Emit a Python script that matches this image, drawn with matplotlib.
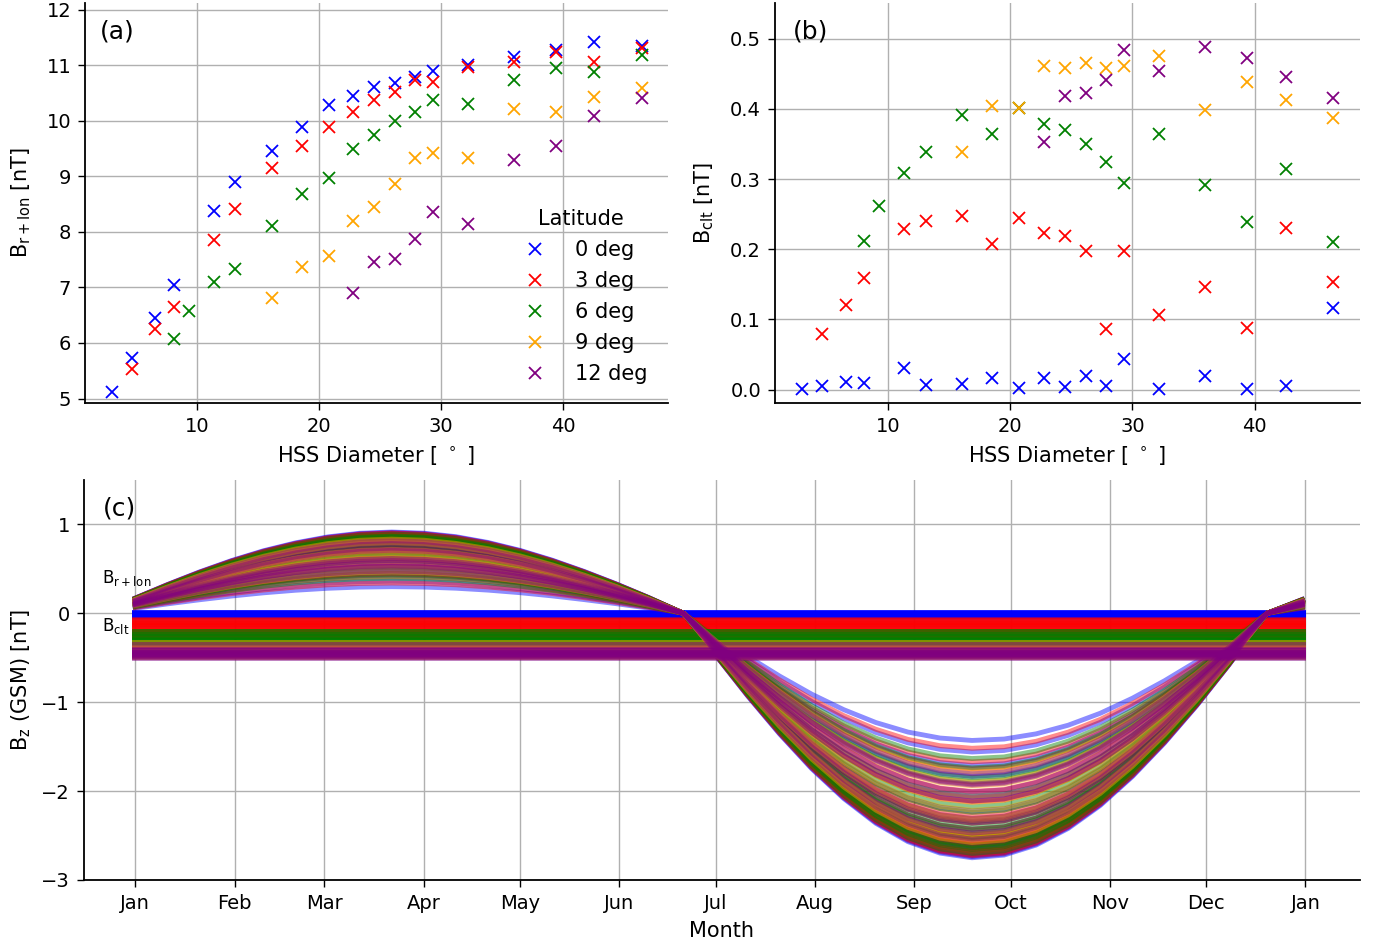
import numpy as np
import pandas as pd
import matplotlib
matplotlib.use('Agg')
import matplotlib.pyplot as plt
import matplotlib.dates as mdates

# --- data ------------------------------------------------------------------
latitudes = ['0 deg', '3 deg', '6 deg', '9 deg', '12 deg']
lat_colors = ['blue', 'red', 'green', 'orange', 'purple']

diam_0 = [2.95, 4.6, 6.55, 8.06, 11.35, 13.1, 16.08, 18.56, 20.75, 22.76,
          24.5, 26.24, 27.87, 29.34, 32.16, 35.96, 39.4, 42.54, 46.43]
diam_3 = diam_0[1:]
diam_6 = [8.06, 9.31, 11.35, 13.1, 16.08, 18.56, 20.75, 22.76, 24.5, 26.24,
          27.87, 29.34, 32.16, 35.96, 39.4, 42.54, 46.43]
diam_9 = diam_6[4:]
diam_12 = diam_6[7:]

br_0 = [5.11, 5.73, 6.45, 7.04, 8.37, 8.90, 9.46, 9.88, 10.29, 10.44, 10.61,
        10.68, 10.79, 10.89, 11.00, 11.15, 11.28, 11.41, 11.35]
br_3 = [5.53, 6.26, 6.64, 7.85, 8.42, 9.15, 9.55, 9.88, 10.16, 10.37, 10.52,
        10.74, 10.70, 10.97, 11.06, 11.24, 11.06, 11.31]
br_6 = [6.08, 6.58, 7.10, 7.33, 8.10, 8.68, 8.97, 9.49, 9.75, 9.99, 10.16,
        10.38, 10.31, 10.74, 10.95, 10.88, 11.18]
br_9 = [6.81, 7.36, 7.56, 8.20, 8.44, 8.86, 9.33, 9.42, 9.33, 10.22, 10.16,
        10.43, 10.59]
br_12 = [6.90, 7.45, 7.51, 7.87, 8.36, 8.14, 9.30, 9.55, 10.09, 10.41]

bclt_0 = [0.001, 0.005, 0.011, 0.010, 0.031, 0.006, 0.008, 0.016, 0.003, 0.016,
          0.004, 0.020, 0.005, 0.043, 0.001, 0.020, 0.001, 0.005, 0.117]
bclt_3 = [0.079, 0.121, 0.159, 0.229, 0.241, 0.247, 0.207, 0.244, 0.223, 0.219,
          0.197, 0.086, 0.197, 0.106, 0.147, 0.088, 0.231, 0.153]
bclt_6 = [0.212, 0.262, 0.309, 0.338, 0.391, 0.365, 0.401, 0.379, 0.370, 0.350,
          0.325, 0.295, 0.364, 0.292, 0.239, 0.314, 0.211]
bclt_9 = [0.338, 0.404, 0.401, 0.461, 0.459, 0.466, 0.458, 0.461, 0.476, 0.399,
          0.438, 0.413, 0.387]
bclt_12 = [0.353, 0.419, 0.423, 0.442, 0.484, 0.454, 0.488, 0.472, 0.445, 0.416]

# panel (c): seasonal shape of the Br+lon projection (read from the curves,
# normalised to the hump extremes) and the hump extremes themselves
shape_dates = ['2021-01-01', '2021-01-11', '2021-01-21', '2021-01-31', '2021-02-10',
               '2021-02-20', '2021-03-02', '2021-03-12', '2021-03-22', '2021-04-01',
               '2021-04-11', '2021-04-21', '2021-05-01', '2021-05-11', '2021-05-21',
               '2021-05-31', '2021-06-10', '2021-06-21', '2021-07-01', '2021-07-11',
               '2021-07-21', '2021-07-31', '2021-08-10', '2021-08-20', '2021-08-30',
               '2021-09-09', '2021-09-19', '2021-09-29', '2021-10-09', '2021-10-19',
               '2021-10-29', '2021-11-08', '2021-11-18', '2021-11-28', '2021-12-08',
               '2021-12-20', '2021-12-31']
shape = [0.188, 0.354, 0.509, 0.649, 0.770, 0.867, 0.940, 0.985, 1.000, 0.986,
         0.943, 0.872, 0.775, 0.655, 0.516, 0.363, 0.197, 0.0,
         -0.171, -0.338, -0.494, -0.636, -0.758, -0.859, -0.934, -0.981, -1.000,
         -0.989, -0.948, -0.880, -0.786, -0.668, -0.531, -0.379, -0.213, 0.0, 0.171]
peak_pos = [0.30, 0.915]    # smallest / largest positive hump [nT]
peak_neg = [1.43, 2.75]     # smallest / largest negative hump [nT]

diams = [diam_0, diam_3, diam_6, diam_9, diam_12]
brs = [br_0, br_3, br_6, br_9, br_12]
bclts = [bclt_0, bclt_3, bclt_6, bclt_9, bclt_12]

# --- figure ------------------------------------------------------------------
plt.rcParams['font.family'] = 'DejaVu Sans'
plt.rcParams['font.size'] = 14

fig = plt.figure(figsize=(13.74, 9.5), dpi=100)
ax_a = fig.add_axes([0.0619, 0.5758, 0.4243, 0.421])
ax_b = fig.add_axes([0.564, 0.5758, 0.4258, 0.421])
ax_c = fig.add_axes([0.0611, 0.0737, 0.9287, 0.421])

for ax in (ax_a, ax_b, ax_c):
    ax.grid(True, color='#b0b0b0', lw=1)
    ax.set_axisbelow(True)
    ax.spines['top'].set_visible(False)
    ax.spines['right'].set_visible(False)
    ax.spines['left'].set_linewidth(1.3)
    ax.spines['bottom'].set_linewidth(1.3)
    ax.tick_params(labelsize=14, length=5, width=1, pad=5)

# (a)
for d, br, c, lab in zip(diams, brs, lat_colors, latitudes):
    ax_a.plot(d, br, 'x', color=c, ms=8, mew=1.3, ls='none', label=lab)
ax_a.set_ylim(4.92, 12.12)
ax_a.set_xlabel(r'HSS Diameter [ $^\circ$ ]', fontsize=15, labelpad=6)
ax_a.set_ylabel(r'B$_{\rm r+lon}$ [nT]', fontsize=15, labelpad=10)
ax_a.text(0.026, 0.93, '(a)', transform=ax_a.transAxes, fontsize=18, va='center')
ax_a.legend(title='Latitude', loc='lower right', frameon=False, fontsize=15,
            title_fontsize=15, borderaxespad=0.5, handletextpad=0.9,
            labelspacing=0.53, bbox_to_anchor=(0.997, 0.0))

# (b)
for d, bc, c in zip(diams, bclts, lat_colors):
    ax_b.plot(d, bc, 'x', color=c, ms=8, mew=1.3, ls='none')
ax_b.set_ylim(-0.019, 0.551)
ax_b.set_yticks([0.0, 0.1, 0.2, 0.3, 0.4, 0.5])
ax_b.set_xlabel(r'HSS Diameter [ $^\circ$ ]', fontsize=15, labelpad=6)
ax_b.set_ylabel(r'B$_{\rm clt}$ [nT]', fontsize=15, labelpad=10)
ax_b.text(0.031, 0.93, '(b)', transform=ax_b.transAxes, fontsize=18, va='center')

# (c)
t = pd.to_datetime(shape_dates)
span = [t[0], t[-1]]
s = np.array(shape)
br_all = np.concatenate([np.array(b) for b in brs])
br_lo, br_hi = br_all.min(), br_all.max()
for br, bc, c in zip(brs, bclts, lat_colors):
    for b, v in zip(br, bc):
        w = (b - br_lo) / (br_hi - br_lo)
        amp_pos = peak_pos[0] + w * (peak_pos[1] - peak_pos[0])
        amp_neg = peak_neg[0] + w * (peak_neg[1] - peak_neg[0])
        ax_c.plot(t, np.where(s > 0, amp_pos, amp_neg) * s, color=c, alpha=0.45, lw=3.5)
        ax_c.plot(span, [-v, -v], color=c, alpha=0.5, lw=5)

ax_c.set_xlim(pd.Timestamp('2020-12-16'), pd.Timestamp('2022-01-18'))
ax_c.set_ylim(-3.0, 1.5)
ax_c.set_yticks([-3, -2, -1, 0, 1])
ax_c.xaxis.set_major_locator(mdates.MonthLocator())
ax_c.xaxis.set_major_formatter(mdates.DateFormatter('%b'))
ax_c.set_xlabel('Month', fontsize=15, labelpad=6)
ax_c.set_ylabel(r'B$_{\rm z}$ (GSM) [nT]', fontsize=15, labelpad=6)
ax_c.text(0.015, 0.93, '(c)', transform=ax_c.transAxes, fontsize=18, va='center')
ax_c.text(0.014, 0.755, r'B$_{\rm r+lon}$', transform=ax_c.transAxes, fontsize=12,
          va='center')
ax_c.text(0.014, 0.635, r'B$_{\rm clt}$', transform=ax_c.transAxes, fontsize=12,
          va='center')

fig.savefig('out.png', dpi=100)
